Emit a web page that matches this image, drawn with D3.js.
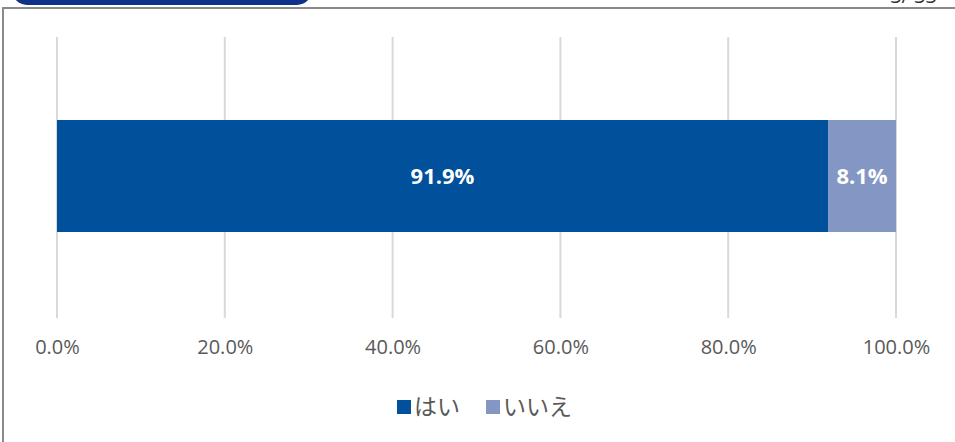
<!DOCTYPE html>
<html><head><meta charset="utf-8">
<script src="https://cdn.jsdelivr.net/npm/d3@7"></script>
<style>body{margin:0;background:#fff;}svg{display:block;}</style>
</head><body>
<svg id="c" width="955" height="442"></svg>
<script>
const categories = ["回答"];
const seriesNames = ["はい", "いいえ"];
const seriesValues = [91.9, 8.1];
const seriesColors = ["#00509b", "#8497c4"];
const tickValues = [0, 20, 40, 60, 80, 100];
const tickLabels = ["0.0%", "20.0%", "40.0%", "60.0%", "80.0%", "100.0%"];
const pageText = "3/ 33";

const svg = d3.select("#c");
const font = "'Open Sans','Noto Sans CJK JP',sans-serif";
const jfont = "'Noto Sans CJK JP','Open Sans',sans-serif";

// header pill
svg.append("path").attr("d", "M12,-20 H312 V-10 A15,15 0 0 1 297,5 H27 A15,15 0 0 1 12,-10 Z").attr("fill", "#10318a");
// frame
svg.append("path").attr("d", "M3,442 V8 H960").attr("fill", "none").attr("stroke", "#8a8a8a").attr("stroke-width", 2);
svg.append("text").attr("x", 937).attr("y", 3).attr("text-anchor", "end")
  .attr("font-family", font).attr("font-size", 20).attr("fill", "#333").text(pageText);

const x = d3.scaleLinear().domain([0, 100]).range([57, 896]);
const y = d3.scaleBand().domain(categories).range([37, 318]).paddingInner(0.6).paddingOuter(0.3);

// gridlines
svg.append("g").selectAll("line").data(tickValues).join("line")
  .attr("x1", d => x(d)).attr("x2", d => x(d)).attr("y1", 37).attr("y2", 318)
  .attr("stroke", "#d9d9d9").attr("stroke-width", 2);

// stacked bar
let acc = 0;
const segs = seriesValues.map((v, i) => { const s = {x0: acc, x1: acc + v, v, i}; acc += v; return s; });
const barY = 120, barH = 112;
svg.append("g").selectAll("rect").data(segs).join("rect")
  .attr("x", d => x(d.x0)).attr("width", d => x(d.x1) - x(d.x0))
  .attr("y", barY).attr("height", barH).attr("fill", d => seriesColors[d.i]);
svg.append("g").selectAll("text").data(segs).join("text")
  .attr("x", d => (x(d.x0) + x(d.x1)) / 2).attr("y", barY + barH / 2 + 8)
  .attr("text-anchor", "middle").attr("font-family", font).attr("font-weight", "bold")
  .attr("font-size", 22).attr("fill", "#fff").text(d => d.v.toFixed(1) + "%");

// axis labels
const ax = svg.append("g").attr("transform", "translate(0,345)")
  .call(d3.axisBottom(x).tickValues(tickValues).tickSize(0).tickPadding(0).tickFormat((d, i) => tickLabels[i]));
ax.select(".domain").remove();
ax.selectAll("text").attr("font-family", font).attr("font-size", 20)
  .attr("fill", "#595959").attr("dy", "0.45em");

// legend
const legX = [397, 486];
const lg = svg.append("g").selectAll("g").data(seriesNames).join("g")
  .attr("transform", (d, i) => `translate(${legX[i]},400)`);
lg.append("rect").attr("width", 14).attr("height", 14).attr("fill", (d, i) => seriesColors[i]);
lg.append("text").attr("x", 17).attr("y", 15).attr("font-family", jfont).attr("font-size", 23)
  .attr("fill", "#595959").text(d => d);
</script>
</body></html>
